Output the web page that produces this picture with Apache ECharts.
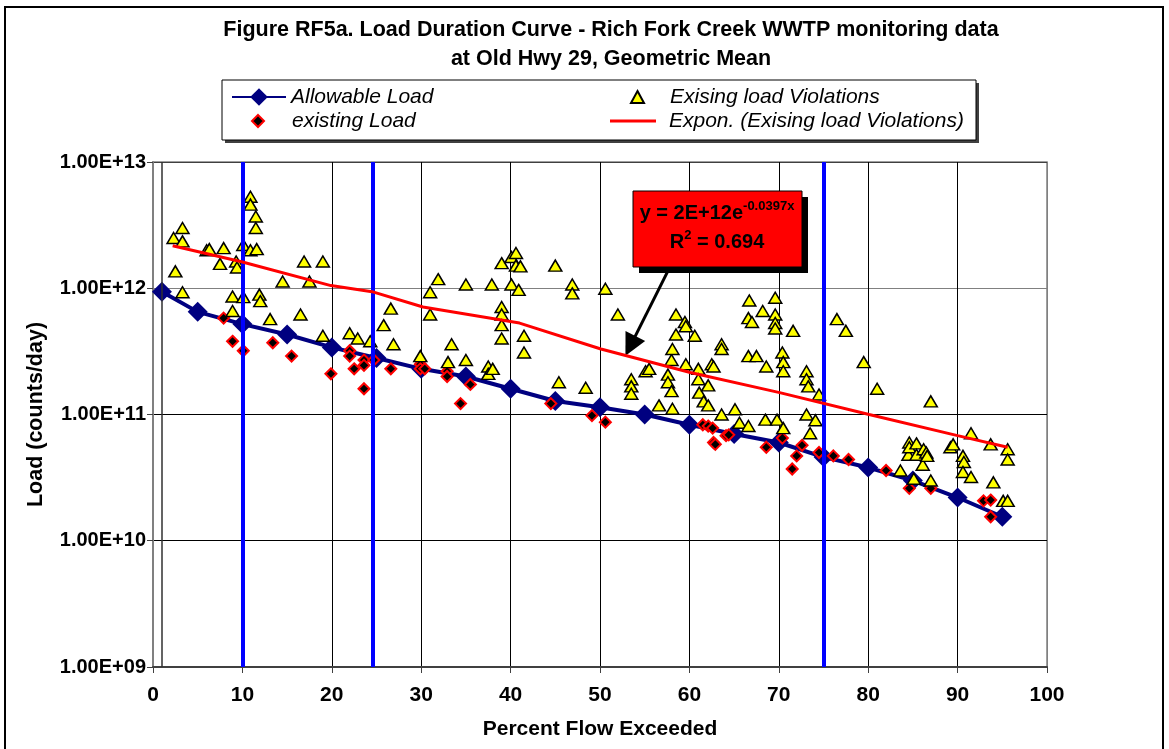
<!DOCTYPE html>
<html>
<head>
<meta charset="utf-8">
<title>Load Duration Curve - Rich Fork Creek</title>
<script src="https://cdn.jsdelivr.net/npm/echarts@6/dist/echarts.min.js"></script>
<style>
  html, body { margin: 0; padding: 0; background: #ffffff; }
  #chart { width: 1169px; height: 749px; }
</style>
</head>
<body>
<div id="chart"></div>
<script>
// ---- data (percent flow exceeded, load in counts/day) ----
const allowableX = [1, 5, 10, 15, 20, 25, 30, 35, 40, 45, 50, 55, 60, 65, 70, 75, 80, 85, 90, 95];
const allowableLoad = [9.4e11, 6.5e11, 5.2e11, 4.3e11, 3.4e11, 2.8e11, 2.3e11, 2.0e11, 1.6e11, 1.28e11,
  1.14e11, 1.0e11, 8.3e10, 7.0e10, 6.0e10, 4.6e10, 3.8e10, 3.0e10, 2.2e10, 1.55e10];

const existingLoad = [
  [7.9, 5.8e11], [8.9, 3.8e11], [10.1, 3.2e11], [13.4, 3.7e11], [15.5, 2.9e11], [19.9, 2.1e11],
  [22.0, 3.2e11], [22.0, 2.9e11], [22.5, 2.3e11], [23.6, 2.7e11], [23.6, 2.45e11], [23.6, 1.6e11], [24.7, 2.7e11],
  [26.6, 2.3e11], [29.9, 2.5e11], [29.9, 2.3e11], [30.4, 2.3e11], [32.9, 2.2e11], [32.9, 2.0e11],
  [34.4, 1.22e11], [35.5, 1.73e11], [44.5, 1.22e11], [49.1, 9.8e10], [50.6, 8.7e10],
  [61.5, 8.3e10], [62.1, 8.1e10], [62.6, 7.8e10], [62.7, 6.0e10], [62.9, 5.8e10], [64.1, 6.8e10], [64.4, 6.9e10],
  [68.6, 5.5e10], [70.4, 6.5e10], [71.5, 3.7e10], [72.0, 4.7e10], [72.6, 5.7e10], [74.5, 5.0e10],
  [76.1, 4.7e10], [77.8, 4.4e10], [82.0, 3.6e10], [84.6, 2.6e10], [87.0, 2.6e10],
  [92.9, 2.07e10], [93.7, 2.1e10], [93.7, 1.55e10]
];

const violations = [
  [2.3, 2.5e12], [3.3, 3.0e12], [3.3, 2.35e12], [2.5, 1.36e12], [3.3, 9.3e11],
  [6.0, 2.0e12], [6.3, 2.04e12], [7.9, 2.08e12], [7.5, 1.56e12], [9.3, 1.63e12], [9.4, 1.46e12], [10.1, 2.2e12],
  [10.9, 5.3e12], [10.9, 4.6e12], [11.5, 3.7e12], [11.5, 3.0e12], [10.9, 2.0e12], [11.6, 2.04e12],
  [8.9, 8.6e11], [10.1, 8.5e11], [8.9, 6.6e11], [11.9, 8.9e11], [12.0, 7.9e11], [13.1, 5.7e11],
  [14.5, 1.13e12], [16.9, 1.63e12], [19.0, 1.63e12], [17.5, 1.13e12], [16.5, 6.2e11], [19.0, 4.2e11],
  [22.0, 4.4e11], [22.9, 4.0e11], [24.3, 3.8e11],
  [25.8, 5.1e11], [26.6, 6.9e11], [26.9, 3.6e11], [29.9, 2.9e11], [31.0, 9.3e11], [31.0, 6.2e11],
  [31.9, 1.18e12], [33.0, 2.6e11], [33.4, 3.6e11], [35.0, 1.07e12], [35.0, 2.7e11],
  [37.5, 2.4e11], [37.5, 2.1e11], [37.9, 1.07e12], [38.0, 2.3e11],
  [39.0, 1.58e12], [39.0, 7.1e11], [39.0, 6.2e11], [39.0, 5.1e11], [39.0, 4.0e11],
  [40.1, 1.77e12], [40.6, 1.9e12], [40.6, 1.51e12], [41.1, 1.49e12], [40.1, 1.07e12], [40.9, 9.7e11],
  [41.5, 4.2e11], [41.5, 3.1e11], [45.0, 1.51e12], [45.4, 1.8e11], [46.9, 1.07e12], [46.9, 9.1e11], [48.4, 1.63e11],
  [50.6, 9.9e11], [52.0, 6.2e11], [53.5, 1.9e11], [53.5, 1.67e11], [53.5, 1.46e11],
  [55.1, 2.2e11], [55.5, 2.3e11], [56.6, 1.18e11],
  [57.6, 2.07e11], [57.6, 1.8e11], [58.0, 2.7e11], [58.0, 1.53e11], [58.1, 3.3e11], [58.1, 1.11e11],
  [58.5, 6.2e11], [58.5, 4.3e11], [59.5, 5.4e11], [59.6, 5.0e11], [59.6, 2.5e11], [60.6, 4.2e11],
  [61.0, 2.3e11], [61.0, 1.9e11], [61.1, 1.49e11], [61.6, 1.27e11],
  [62.1, 1.7e11], [62.1, 1.18e11], [62.5, 2.5e11], [62.7, 2.4e11], [63.6, 3.6e11], [63.6, 3.3e11], [63.6, 1.0e11],
  [65.1, 1.1e11], [65.6, 8.6e10], [66.6, 8.1e10], [66.6, 2.9e11], [67.5, 2.9e11], [68.6, 2.4e11],
  [66.7, 8.0e11], [66.6, 5.8e11], [67.0, 5.4e11], [68.2, 6.6e11], [68.5, 9.1e10],
  [69.6, 8.4e11], [69.6, 6.2e11], [69.6, 5.3e11], [69.6, 4.8e11], [69.8, 9.1e10],
  [70.4, 3.1e11], [70.5, 2.6e11], [70.5, 2.2e11], [70.5, 7.8e10], [71.6, 4.6e11],
  [73.1, 2.2e11], [73.1, 1.9e11], [73.3, 1.67e11], [73.1, 1.0e11], [73.5, 7.1e10], [74.1, 9.0e10],
  [74.5, 1.44e11], [76.5, 5.7e11], [77.5, 4.6e11],
  [79.5, 2.6e11], [81.0, 1.6e11], [83.6, 3.6e10], [84.5, 4.8e10], [84.6, 6.0e10], [84.6, 5.5e10],
  [85.1, 3.1e10], [85.4, 5.9e10], [85.4, 4.8e10], [86.1, 4.0e10], [86.2, 5.3e10], [86.5, 5.0e10],
  [86.6, 4.7e10], [87.0, 1.27e11], [87.0, 3.0e10],
  [89.2, 5.5e10], [89.5, 5.8e10], [90.6, 4.7e10], [90.7, 4.2e10], [90.6, 3.5e10], [91.5, 7.1e10],
  [91.5, 3.2e10], [93.7, 5.8e10], [94.0, 2.9e10], [95.6, 5.3e10], [95.6, 4.4e10], [95.1, 2.07e10], [95.6, 2.07e10]
];

// exponential trend of the violations, as plotted
const trendPoints = [
  [2.2, 2.17e12], [9.9, 1.62e12], [19.9, 1.05e12], [24.5, 9.4e11], [30.2, 7.1e11], [41.0, 5.3e11],
  [50.1, 3.3e11], [60.1, 2.15e11], [70.1, 1.49e11], [80.1, 1.0e11], [90.0, 6.8e10], [95.6, 5.5e10]
];

// flow zone boundaries and the start-of-record marker
const zoneBounds = [10, 24.6, 75];
const recordStart = 1;

// callout arrow: from the equation box down to the trend line
const arrowFrom = [57.9, 1.51e12];
const arrowTo = [53.4, 3.5e11];

const xTickStep = 10;
const yTickValues = [1e9, 1e10, 1e11, 1e12, 1e13];

const trendEquation = { coef: '2E+12', exponent: '-0.0397x', r2: '0.694' };

// ---- rendering ----
const FONT = '"Liberation Sans", Arial, sans-serif';

function sciLabel(v) {
  const e = Math.round(Math.log10(v));
  const m = v / Math.pow(10, e);
  return m.toFixed(2) + 'E+' + (e < 10 ? '0' + e : e);
}

const chart = echarts.init(document.getElementById('chart'), null, { renderer: 'canvas' });

// one legend per entry so the two columns line up exactly
function legendAt(name, left, center, itemWidth, itemHeight, textPad, icon) {
  const item = icon ? { name: name, icon: icon } : name;
  return {
    data: [item], left: left, top: center - 11, padding: 0, itemGap: 0,
    itemWidth: itemWidth, itemHeight: itemHeight,
    textStyle: {
      fontFamily: FONT, fontSize: 21, fontStyle: 'italic', color: '#000', lineHeight: 22,
      padding: [0, 0, 0, textPad]
    },
    selectedMode: false, z: 6
  };
}

const xSplitColors = [];
for (let i = 0; i <= 100 / xTickStep; i++) xSplitColors.push(i === 0 || i === 100 / xTickStep ? '#808080' : '#000');
const ySplitColors = yTickValues.map((v, i) => (i === 0 ? '#404040' : (i === yTickValues.length - 1 ? '#808080' : '#000')));

const superRich = {
  b: { fontFamily: FONT, fontSize: 20, fontWeight: 'bold', fill: '#000', lineHeight: 26 },
  s: { fontFamily: FONT, fontSize: 13, fontWeight: 'bold', fill: '#000', lineHeight: 14, verticalAlign: 'top' }
};

const option = {
  animation: false,
  backgroundColor: '#ffffff',
  title: {
    text: 'Figure RF5a. Load Duration Curve - Rich Fork Creek WWTP monitoring data\nat Old Hwy 29, Geometric Mean',
    left: 611, top: 16, padding: 0, textAlign: 'center',
    textStyle: { fontFamily: FONT, fontSize: 21.5, fontWeight: 'bold', color: '#000', lineHeight: 29 }
  },
  legend: [
    legendAt('Allowable Load', 231, 97, 54, 22, 0),
    legendAt('existing Load', 251, 121, 12, 12, 23, 'diamond'),
    legendAt('Exising load Violations', 630, 97, 13, 12, 21, 'triangle'),
    legendAt('Expon. (Exising load Violations)', 610, 121, 46, 3, 8, 'rect')
  ],
  grid: {
    left: 153, right: 122, top: 162, bottom: 82,
    show: true, borderColor: '#808080', borderWidth: 1.5, backgroundColor: '#ffffff'
  },
  xAxis: {
    type: 'value', min: 0, max: 100, interval: xTickStep,
    name: 'Percent Flow Exceeded', nameLocation: 'middle', nameGap: 52,
    nameTextStyle: { fontFamily: FONT, fontSize: 21, fontWeight: 'bold', color: '#000' },
    axisLine: { show: true, lineStyle: { color: '#404040', width: 2 } },
    axisTick: { show: true, inside: false, length: 6, lineStyle: { color: '#404040', width: 1 } },
    axisLabel: { margin: 18, fontFamily: FONT, fontSize: 21, fontWeight: 'bold', color: '#000' },
    splitLine: { show: true, lineStyle: { color: xSplitColors, width: 1 } }
  },
  yAxis: {
    type: 'log', logBase: 10, min: yTickValues[0], max: yTickValues[yTickValues.length - 1], splitNumber: 4,
    name: 'Load (counts/day)', nameLocation: 'middle', nameGap: 106, nameRotate: 90,
    nameTextStyle: { fontFamily: FONT, fontSize: 21.5, fontWeight: 'bold', color: '#000' },
    axisLine: { show: true, lineStyle: { color: '#808080', width: 2 } },
    axisTick: { show: true, inside: false, length: 6, lineStyle: { color: '#404040', width: 1 } },
    axisLabel: { margin: 7, fontFamily: FONT, fontSize: 20, fontWeight: 'bold', color: '#000', formatter: sciLabel },
    splitLine: { show: true, lineStyle: { color: ySplitColors, width: 1 } }
  },
  series: [
    {
      name: 'Allowable Load', type: 'line',
      data: allowableX.map((x, i) => [x, allowableLoad[i]]),
      symbol: 'diamond', symbolSize: 20, showSymbol: true,
      lineStyle: { color: '#000080', width: 4 },
      itemStyle: { color: '#000080' },
      emphasis: { disabled: true }, z: 2
    },
    {
      name: 'existing Load', type: 'scatter', data: existingLoad,
      symbol: 'diamond', symbolSize: 11,
      itemStyle: { color: '#000000', borderColor: '#FF0000', borderWidth: 2, opacity: 1 },
      emphasis: { disabled: true }, z: 3
    },
    {
      name: 'Exising load Violations', type: 'scatter', data: violations,
      symbol: 'triangle', symbolSize: [13, 11],
      itemStyle: { color: '#FFFF00', borderColor: '#000000', borderWidth: 1.5, opacity: 1 },
      emphasis: { disabled: true }, z: 4,
      markLine: {
        silent: true, animation: false, symbol: ['none', 'none'],
        label: { show: false },
        emphasis: { disabled: true },
        data: [{ xAxis: recordStart, lineStyle: { color: '#303030', width: 1.5, type: 'solid' } }]
          .concat(zoneBounds.map(v => ({ xAxis: v, lineStyle: { color: '#0000FF', width: 4, type: 'solid' } })))
      }
    },
    {
      name: 'Expon. (Exising load Violations)', type: 'line', data: trendPoints,
      symbol: 'none', showSymbol: false, smooth: false,
      lineStyle: { color: '#FF0000', width: 3 },
      itemStyle: { color: '#FF0000' },
      emphasis: { disabled: true }, z: 5,
      markLine: {
        silent: true, animation: false, symbol: ['none', 'triangle'], symbolSize: 22,
        label: { show: false },
        emphasis: { disabled: true },
        lineStyle: { color: '#000', width: 3, type: 'solid' },
        itemStyle: { color: '#000' },
        data: [[{ coord: arrowFrom }, { coord: arrowTo }]]
      }
    }
  ],
  graphic: [
    // outer chart frame
    { type: 'rect', z: 0, silent: true, shape: { x: 5, y: 7, width: 1158, height: 800 },
      style: { fill: 'none', stroke: '#000', lineWidth: 2 } },
    // legend frame with drop shadow
    { type: 'rect', z: 1, silent: true, shape: { x: 225, y: 83, width: 754, height: 60 }, style: { fill: '#404040' } },
    { type: 'rect', z: 2, silent: true, shape: { x: 222, y: 80, width: 754, height: 60 },
      style: { fill: '#fff', stroke: '#000', lineWidth: 1 } },
    // trend equation callout
    { type: 'group', z: 20, silent: true, children: [
      { type: 'rect', z: 20, shape: { x: 639, y: 197, width: 169, height: 76 }, style: { fill: '#000' } },
      { type: 'rect', z: 21, shape: { x: 633, y: 191, width: 169, height: 76 },
        style: { fill: '#FF0000', stroke: '#000', lineWidth: 1 } },
      { type: 'text', z: 22, x: 717, y: 213, style: {
          text: '{b|y = ' + trendEquation.coef + 'e}{s|' + trendEquation.exponent + '}',
          align: 'center', verticalAlign: 'middle', rich: superRich
        } },
      { type: 'text', z: 22, x: 717, y: 242, style: {
          text: '{b|R}{s|2}{b| = ' + trendEquation.r2 + '}',
          align: 'center', verticalAlign: 'middle', rich: superRich
        } }
    ] }
  ]
};

chart.setOption(option);
</script>
</body>
</html>
